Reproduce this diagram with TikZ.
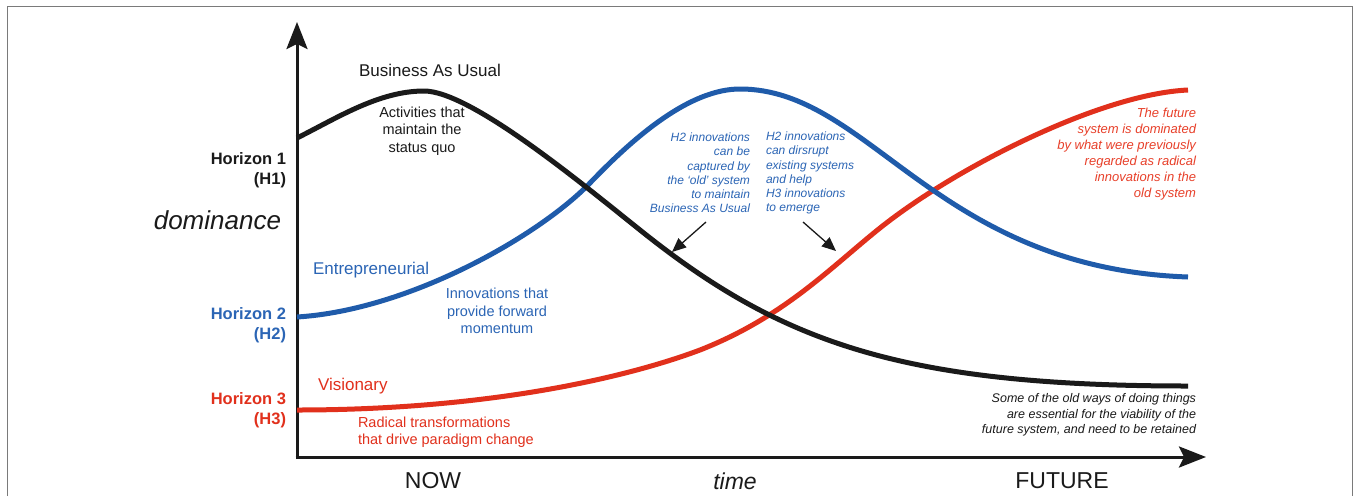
\documentclass[tikz,border=0pt]{standalone}
\usepackage{fontspec}
\setmainfont{Liberation Sans}
\usetikzlibrary{arrows.meta}
\definecolor{hblue}{HTML}{1F5BAA}
\definecolor{hred}{HTML}{E1301C}
\definecolor{tblue}{HTML}{2B65B5}
\definecolor{tred}{HTML}{E8402A}
\definecolor{ink}{HTML}{1A1A1A}
\definecolor{framegray}{HTML}{7A7A7A}
\newcommand{\fsz}[2]{\fontsize{#1}{#2}\selectfont}
\begin{document}
\begin{tikzpicture}[x=1pt,y=-1pt,
  lab/.style={inner sep=0pt, outer sep=0pt},
  curve/.style={line width=5pt},
  axisline/.style={line width=3pt, draw=ink, -{Stealth[length=27pt,width=21pt,inset=5pt]}},
  hlab/.style={lab, font=\fsz{16.5}{20}\bfseries, align=right, anchor=east},
  big/.style={lab, font=\fsz{17}{20}},
  small/.style={lab, font=\fsz{14.5}{17.5}},
  note/.style={lab, font=\fsz{12}{14.2}\itshape},
  tick/.style={lab, font=\fsz{23}{26}},
  pointer/.style={line width=1.3pt, draw=ink, -{Triangle[length=14pt,width=12pt]}}
]
\useasboundingbox (0,0) rectangle (1356,496);
\fill[white] (0,0) rectangle (1356,496);
% frame
\draw[framegray, line width=1.5pt] (7.5,496) -- (7.5,6.5) -- (1352.5,6.5) -- (1352.5,496);

% axes
\coordinate (o) at (297,457);
\coordinate (ytop) at (297,22);
\coordinate (xend) at (1206,457);
\draw[axisline] (297,459) -- (ytop);
\draw[axisline] (295.5,457) -- (xend);

% curves
\draw[curve, hred] (297,410) .. controls (480,410) and (620,380) .. (700,350)
  .. controls (784,317) and (830,268) .. (880,228)
  .. controls (955,168) and (1100,94) .. (1188,90);
\draw[curve, hblue] (297,317) .. controls (410,310) and (540,235) .. (590,183)
  .. controls (635,136) and (690,89) .. (740,89)
  .. controls (870,89) and (935,268) .. (1188,277);
\draw[curve, ink] (297,138) .. controls (337,118) and (379,91) .. (424,91)
  .. controls (470,91) and (580,182) .. (640,230)
  .. controls (780,342) and (900,386) .. (1188,386);

% horizon labels
\node[hlab, ink] (h1) at (286,170) {Horizon 1\\(H1)};
\node[hlab, tblue] (h2) at (286,325) {Horizon 2\\(H2)};
\node[hlab, hred] (h3) at (286,410) {Horizon 3\\(H3)};
\node[lab, ink, font=\fsz{26}{30}\itshape, anchor=east] (dom) at (281,220) {dominance};

% curve labels
\node[big, ink] (bau) at (430,70) {Business As Usual};
\node[small, ink, align=center] (act) at (422,131) {Activities that\\maintain the\\status quo};
\node[big, tblue, anchor=west] (ent) at (313,270) {Entrepreneurial};
\node[small, tblue, align=center] (inn) at (497,311) {Innovations that\\provide forward\\momentum};
\node[big, hred, anchor=west] (vis) at (318,386) {Visionary};
\node[small, hred, align=left, anchor=west] (rad) at (358,432) {Radical transformations\\that drive paradigm change};

% notes
\node[note, tblue, align=right, anchor=east] (capt) at (750,173) {H2 innovations\\can be\\captured by\\the `old' system\\to maintain\\Business As Usual};
\node[note, tblue, align=left, anchor=west] (disr) at (766,173) {H2 innovations\\can dirsrupt\\existing systems\\and help\\H3 innovations\\to emerge};
\node[lab, tred, font=\fsz{13}{16}\itshape, align=right, anchor=east] (fut) at (1196,154) {The future\\system is dominated\\by what were previously\\regarded as radical\\innovations in the\\old system};
\node[note, ink, font=\fsz{12.5}{15.5}\itshape, align=right, anchor=east] (old) at (1196,415) {Some of the old ways of doing things\\are essential for the viability of the\\future system, and need to be retained};

% pointers
\coordinate (p1s) at (706,222);
\coordinate (p1e) at (672,252);
\coordinate (p2s) at (803,222);
\coordinate (p2e) at (836,251);
\draw[pointer] (p1s) -- (p1e);
\draw[pointer] (p2s) -- (p2e);

% time axis labels
\node[tick, ink] (now) at (433,481) {NOW};
\node[tick, ink, font=\fsz{23}{26}\itshape] (time) at (735,481) {time};
\node[tick, ink] (future) at (1062,481) {FUTURE};
\end{tikzpicture}
\end{document}
